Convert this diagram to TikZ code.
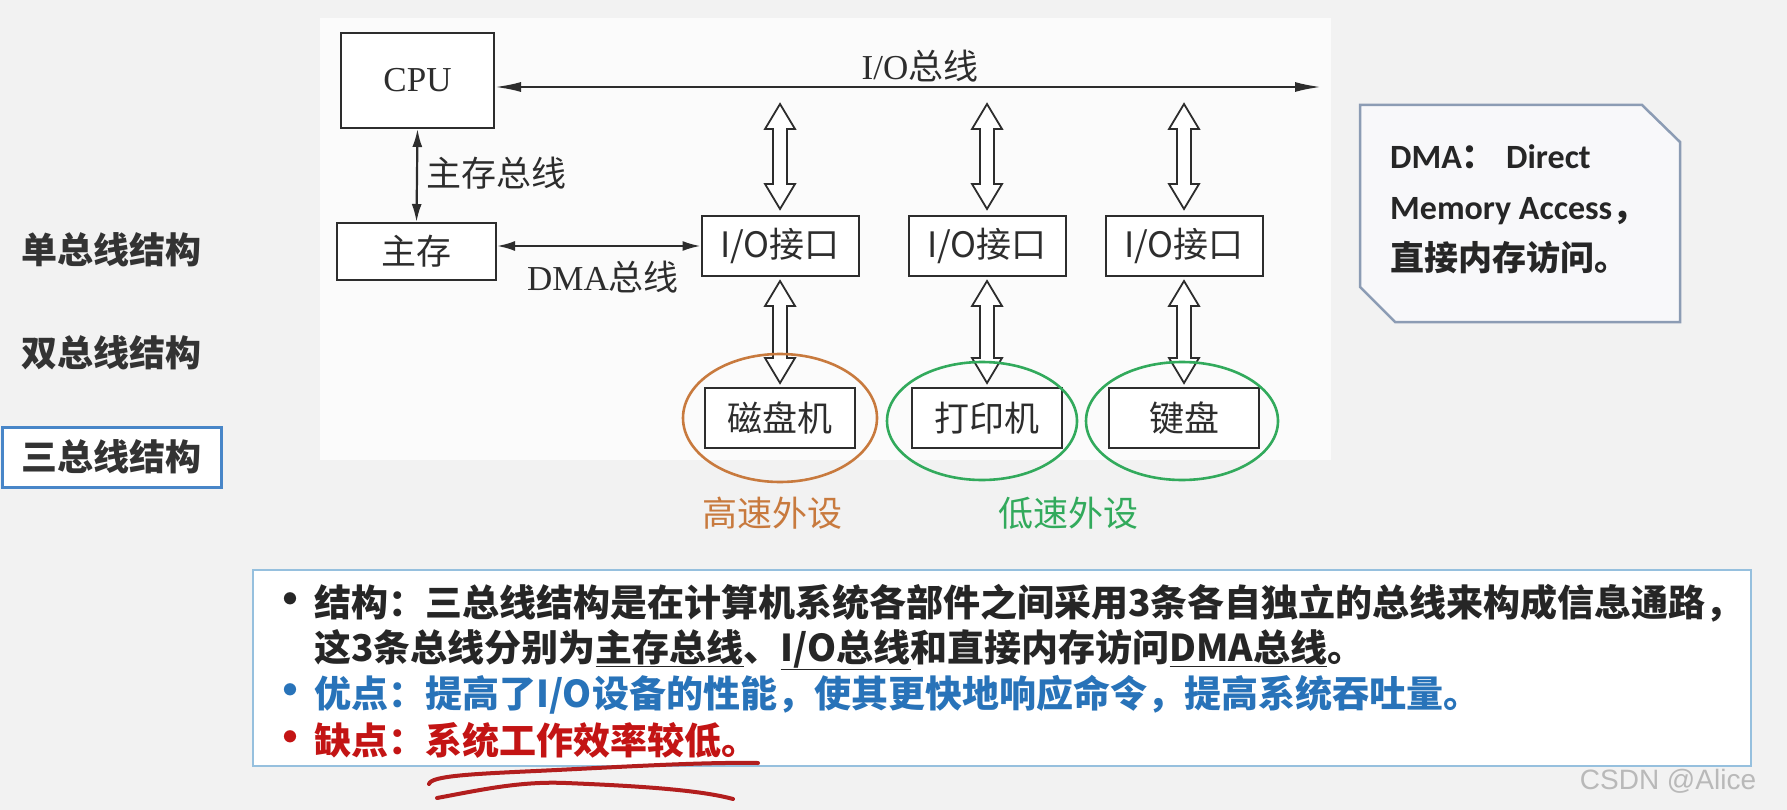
\documentclass[tikz,border=0pt]{standalone}
\usepackage{fontspec}
\setmainfont{Noto Sans CJK SC}
\newfontfamily\tms{Liberation Serif}
\newfontfamily\carl{Carlito}
\newfontfamily\arial{Liberation Sans}
\usepackage{tikz}
\usetikzlibrary{arrows.meta,calc}

\definecolor{slide}{RGB}{242,242,242}
\definecolor{panel}{RGB}{251,251,251}
\definecolor{ink}{RGB}{45,45,45}
\definecolor{fast}{RGB}{200,122,62}
\definecolor{slow}{RGB}{50,170,92}
\definecolor{frame}{RGB}{72,134,200}
\definecolor{notefr}{RGB}{140,156,180}
\definecolor{notebg}{RGB}{248,248,250}
\definecolor{sumfr}{RGB}{150,192,222}
\definecolor{merit}{RGB}{40,115,185}
\definecolor{flaw}{RGB}{195,20,20}
\definecolor{pen}{RGB}{178,30,30}

% hollow double arrow, #1 top end, #2 bottom end
\newcommand\hollowarrow[2]{%
  \filldraw[hollow] let \p1=(#1), \p2=(#2) in
    (\x1,\y1) -- (\x1+15pt,\y1-25pt) -- (\x1+7pt,\y1-25pt) -- (\x1+7pt,\y2+25pt)
    -- (\x1+15pt,\y2+25pt) -- (\x1,\y2) -- (\x1-15pt,\y2+25pt) -- (\x1-7pt,\y2+25pt)
    -- (\x1-7pt,\y1-25pt) -- (\x1-15pt,\y1-25pt) -- cycle;}
\newcommand\bul{\makebox[46pt][l]{\raisebox{1pt}{\fontsize{44}{44}\selectfont\textbullet}}}
\newcommand\nobul{\makebox[46pt][l]{}}

\begin{document}
\begin{tikzpicture}[x=1pt, y=-1pt,
  unit/.style={draw=ink, line width=2pt, fill=white, inner sep=0pt, text=ink,
    font=\fontsize{35}{40}\selectfont},
  port/.style={unit, minimum width=157pt, minimum height=60pt},
  dev/.style={unit, minimum width=150pt, minimum height=60pt},
  lbl/.style={inner sep=0pt, text=ink, font=\fontsize{35}{40}\selectfont},
  bus/.style={draw=ink, line width=2.2pt, {Latex[length=26pt,width=10pt]}-{Latex[length=26pt,width=10pt]}},
  shortbus/.style={draw=ink, line width=2.2pt, {Latex[length=18pt,width=10pt]}-{Latex[length=18pt,width=10pt]}},
  hollow/.style={draw=ink, line width=1.8pt, fill=white},
  ring/.style={line width=2.6pt},
  kind/.style={inner sep=0pt, text=black!80, font=\fontsize{36}{40}\selectfont\bfseries},
  point/.style={anchor=base west, inner sep=0pt, font=\fontsize{37}{46}\selectfont\bfseries},
]
\useasboundingbox (0,0) rectangle (1787,810);
\fill[slide] (0,0) rectangle (1787,810);
\fill[panel] (320,18) rectangle (1331,460);

% left menu
\node[kind] (single) at (111,250) {单总线结构};
\node[kind] (double) at (111,353) {双总线结构};
\node[kind, draw=frame, line width=3pt, fill=white, minimum width=219pt, minimum height=60pt] (triple) at (111.5,457) {三总线结构};

% diagram
\node[unit, minimum width=153pt, minimum height=95pt] (cpu) at (417.5,80.5) {\tms CPU};
\node[unit, minimum width=159pt, minimum height=57pt] (mem) at (416.5,251.5) {主存};
\node[port] (io1) at (780,246) {I/O接口};
\node[port] (io2) at (987,246) {I/O接口};
\node[port] (io3) at (1184,246) {I/O接口};
\node[dev] (dev1) at (780,418) {磁盘机};
\node[dev] (dev2) at (987,418) {打印机};
\node[dev] (dev3) at (1184,418) {键盘};

\coordinate (busend) at (1321,87);
\draw[bus] (cpu.east |- busend) -- (busend);
\node[lbl] (iobus) at (920,66) {\tms I/O\rmfamily 总线};
\draw[shortbus] (cpu.south) -- (mem.north);
\node[lbl] (membus) at (496,173) {主存总线};
\draw[shortbus] (mem.east |- io1.west) -- (io1.west);
\node[lbl] (dmabus) at (603,277) {\tms DMA\rmfamily 总线};

\foreach \i in {1,2,3} {
  \coordinate (tap\i) at ($(io\i.north)+(0,111pt)$);
  \hollowarrow{tap\i}{$(io\i.north)+(0,6pt)$}
  \hollowarrow{$(io\i.south)+(0,-4pt)$}{$(dev\i.north)+(0,4pt)$}
}

\draw[ring, fast] (dev1) ellipse [x radius=97pt, y radius=64pt];
\draw[ring, slow] ($(dev2)+(-5pt,-3pt)$) ellipse [x radius=95pt, y radius=59pt];
\draw[ring, slow] ($(dev3)+(-2pt,-3pt)$) ellipse [x radius=96pt, y radius=59pt];
\node[lbl, text=fast] (fastdev) at (772,513) {高速外设};
\node[lbl, text=slow] (slowdev) at (1068,513) {低速外设};

% note
\filldraw[draw=notefr, fill=notebg, line width=2.5pt]
  (1360,105) -- (1642,105) -- (1680,142) -- (1680,322) -- (1395,322) -- (1360,287) -- cycle;
\node[anchor=west, align=left, inner sep=0pt, text=black!85,
  font=\fontsize{34}{51}\selectfont\bfseries] (note) at (1390,209)
  {{\carl DMA}：\hspace{0.3em}{\carl Direct}\\{\carl Memory Access}，\\直接内存访问。};

% summary
\filldraw[draw=sumfr, fill=white, line width=2.5pt] (253,570) rectangle (1751,766);
\node[point, text=black!85] (struct) at (268,616) {\bul 结构：三总线结构是在计算机系统各部件之间采用3条各自独立的总线来构成信息通路，};
\node[point, text=black!85] (structb) at (268,661) {\nobul 这3条总线分别为\underline{主存总线}、\underline{I/O总线}和直接内存访问\underline{DMA总线}。};
\node[point, text=merit] (pro) at (268,707) {\bul 优点：提高了I/O设备的性能，使其更快地响应命令，提高系统吞吐量。};
\node[point, text=flaw] (con) at (268,754) {\bul 缺点：系统工作效率较低。};

% pen marks
\draw[pen, line width=4pt, line cap=round] (429,784) .. controls (431,776) and (470,774) .. (536,771) .. controls (620,767) and (700,762) .. (758,763);
\draw[pen, line width=4pt, line cap=round] (437,798) .. controls (480,790) and (520,781) .. (566,783) .. controls (640,786) and (700,790) .. (733,799);

\node[text=gray!55, font=\fontsize{28}{30}\selectfont\arial] (mark) at (1668,781) {CSDN @Alice};
\end{tikzpicture}
\end{document}
